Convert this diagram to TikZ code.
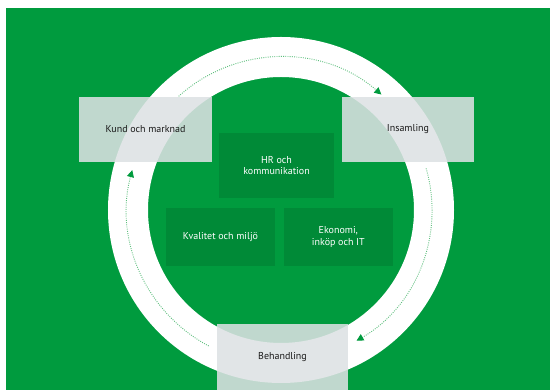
\documentclass[tikz,border=0pt]{standalone}
\usepackage{fontspec}
\setmainfont{PT Sans}
\usetikzlibrary{arrows.meta}
\definecolor{bggreen}{HTML}{009B3E}
\definecolor{darkbox}{HTML}{008A37}
\definecolor{dotgreen}{HTML}{5DBF7D}
\definecolor{boxgray}{HTML}{DDE2E4}
\definecolor{txtdark}{HTML}{1A1A1A}
\tikzset{
  x=1pt, y=1pt,
  graybox/.style={fill=boxgray, fill opacity=0.87, text opacity=1, draw=none,
    inner sep=0pt, text=txtdark, font=\fontsize{10}{11.5}\selectfont, align=center},
  greenbox/.style={fill=darkbox, draw=none, inner sep=0pt, text=white,
    font=\fontsize{10}{11.5}\selectfont, align=center},
  flowarc/.style={draw=dotgreen, line width=0.9pt, dash pattern=on 0.9pt off 1.3pt,
    -{Triangle[length=7pt,width=7pt,fill=bggreen,color=bggreen]}},
}
\begin{document}
\begin{tikzpicture}
\useasboundingbox (0,0) rectangle (550,390);
\fill[white] (0,0) rectangle (550,390);
\fill[bggreen] (6,0) rectangle (550,382);
\coordinate (c) at (281,180);
% ring
\draw[white, line width=40pt] (c) circle[radius=153];
% inner boxes
\node[greenbox, minimum width=115, minimum height=65] (hr) at (276.5,224.5) {HR och\\kommunikation};
\node[greenbox, minimum width=109, minimum height=58] (kv) at (220.5,153) {Kvalitet och miljö};
\node[greenbox, minimum width=109, minimum height=58] (ek) at (338.3,153) {Ekonomi,\\inköp och IT};
% flow arcs
\draw[flowarc] (c) ++(132:153) arc[start angle=132, end angle=49, radius=153];
\draw[flowarc] (c) ++(16:151) arc[start angle=16, end angle=-60, radius=151];
\draw[flowarc] (c) ++(242:154) arc[start angle=242, end angle=165, radius=154];
% outer stage boxes
\node[graybox, minimum width=133, minimum height=65] (kund) at (145.5,260.5) {Kund och marknad};
\node[graybox, minimum width=132, minimum height=65] (ins) at (408,260.5) {Insamling};
\node[graybox, minimum width=131, minimum height=66] (beh) at (282.5,33) {Behandling};
\end{tikzpicture}
\end{document}
